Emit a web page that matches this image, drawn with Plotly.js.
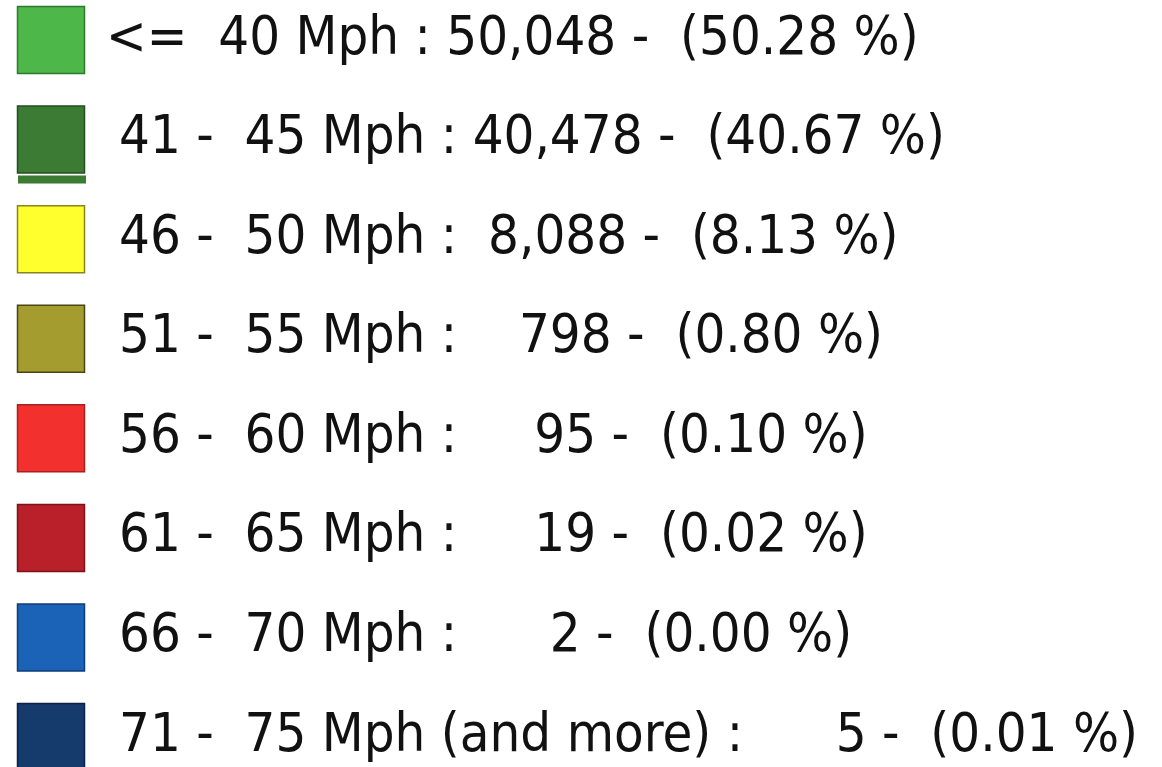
<!DOCTYPE html>
<html>
<head>
<meta charset="utf-8">
<script src="https://cdn.plot.ly/plotly-3.0.1.min.js"></script>
<style>html,body{margin:0;padding:0;background:#fff;}#chart{width:1162px;height:767px;}</style>
</head>
<body>
<div id="chart"></div>
<script>
// Data
const labels = ["<=  40 Mph", "41 -  45 Mph", "46 -  50 Mph", "51 -  55 Mph", "56 -  60 Mph", "61 -  65 Mph", "66 -  70 Mph", "71 -  75 Mph (and more)"];
const counts = [50048, 40478, 8088, 798, 95, 19, 2, 5];
const percents = [50.28, 40.67, 8.13, 0.80, 0.10, 0.02, 0.00, 0.01];
const fillColors = ["#4db849", "#3b7b33", "#ffff2e", "#a59c2f", "#f2302e", "#b9202a", "#1a63b6", "#153a6c"];
const edgeColors = ["#2c7a2c", "#234f1f", "#8a8420", "#4a4514", "#a82020", "#7a1418", "#0f3d7a", "#0c2244"];

const rowIdx = labels.map((_, i) => i);
const NB = "\u00a0";
function fmt(n) { return n.toLocaleString("en-US"); }
function pad(s, w) { while (s.length < w) s = " " + s; return s; }
const texts = labels.map((l, i) => {
  const s = l + " : " + pad(fmt(counts[i]), 6) + " -  (" + percents[i].toFixed(2) + " %)";
  return s.replace(/ /g, NB);
});
const textX = labels.map((l, i) => i === 0 ? 106 : 119);

const traces = [
  {
    type: "scatter", mode: "markers",
    x: rowIdx.map(() => 51), y: rowIdx,
    marker: { symbol: "square", size: 67, color: fillColors, line: { color: edgeColors, width: 1.5 } },
    hoverinfo: "skip", showlegend: false
  },
  {
    type: "scatter", mode: "text",
    x: textX, y: rowIdx, text: texts,
    textposition: "middle right",
    textfont: { family: "DejaVu Sans Condensed, DejaVu Sans", size: 54, color: "#111111" },
    hoverinfo: "skip", showlegend: false
  }
];

const layout = {
  width: 1162, height: 767,
  margin: { l: 0, r: 0, t: 0, b: 0 },
  paper_bgcolor: "#ffffff", plot_bgcolor: "#ffffff",
  xaxis: { range: [0, 1162], visible: false, fixedrange: true },
  yaxis: { range: [7.301, -0.4017], visible: false, fixedrange: true },
  shapes: [
    { type: "rect", xref: "x", yref: "y", x0: 18, x1: 86, y0: 1.36, y1: 1.44,
      fillcolor: "#3b7b33", line: { width: 0 } }
  ],
  showlegend: false
};

Plotly.newPlot("chart", traces, layout, { displayModeBar: false, staticPlot: true });
</script>
</body>
</html>
